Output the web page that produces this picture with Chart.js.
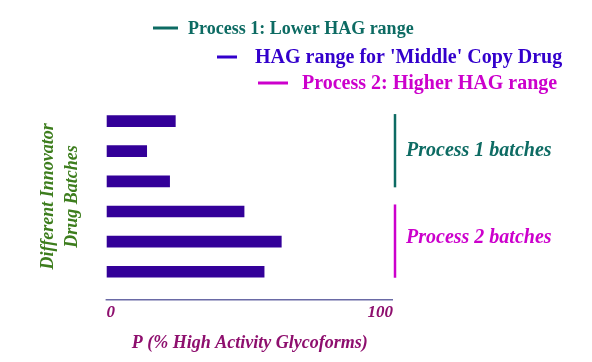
<!DOCTYPE html>
<html>
<head>
<meta charset="utf-8">
<script src="https://cdn.jsdelivr.net/npm/chart.js@4.4.0/dist/chart.umd.min.js"></script>
<style>
    html, body { margin: 0; padding: 0; background: #fff; }
</style>
</head>
<body>
<canvas id="hag-chart" width="592" height="362"></canvas>
<script>
// innovator drug batches, top to bottom, and their HAG level (% of scale)
var batchLabels = ['Batch 1', 'Batch 2', 'Batch 3', 'Batch 4', 'Batch 5', 'Batch 6'];
var hagValues = [24, 14, 22, 48, 61, 55];
var xTickValues = [0, 100];

// legend at the top
var legendLabels = ['Process 1: Lower HAG range', "HAG range for 'Middle' Copy Drug", 'Process 2: Higher HAG range'];
var legendColors = ['#0d6b63', '#3300cc', '#cc00cc'];

// brackets on the right side (batch index from / to)
var groupLabels = ['Process 1 batches', 'Process 2 batches'];
var groupFirst = [0, 3];
var groupLast = [2, 5];
var groupColors = ['#0d6b63', '#cc00cc'];

var serif = "'Liberation Serif', 'DejaVu Serif', serif";
var axisColor = '#8e0f6e';

// draws the header legend, the bottom axis line and the group brackets
var annotationsPlugin = {
    id: 'annotations',
    afterDraw: function (chart) {
        let ctx = chart.ctx;
        let area = chart.chartArea;
        let xs = chart.scales.x;
        let ys = chart.scales.y;

        ctx.save();

        // bottom axis line, a little below the last bar
        ctx.strokeStyle = '#6a6aa6';
        ctx.lineWidth = 1.5;
        ctx.beginPath();
        ctx.moveTo(xs.getPixelForValue(0) - 1, area.bottom + 13);
        ctx.lineTo(xs.getPixelForValue(100), area.bottom + 13);
        ctx.stroke();

        // brackets for the two process groups
        ctx.font = 'italic bold 20px ' + serif;
        ctx.textBaseline = 'middle';
        ctx.textAlign = 'left';
        for (let i = 0; i < groupLabels.length; i++) {
            let top = ys.getPixelForValue(groupFirst[i]) - 7;
            let bottom = ys.getPixelForValue(groupLast[i]) + 6;
            let bx = area.right + 2;
            ctx.strokeStyle = groupColors[i];
            ctx.lineWidth = 2.5;
            ctx.beginPath();
            ctx.moveTo(bx, top);
            ctx.lineTo(bx, bottom);
            ctx.stroke();
            ctx.fillStyle = groupColors[i];
            ctx.fillText(groupLabels[i], bx + 11, (top + bottom) / 2 + (i == 1 ? -3 : 0));
        }

        // legend rows are staggered to the right
        let lineX = [153, 217, 258];
        let lineW = [25, 20, 30];
        let textX = [188, 255, 302];
        let rowY = [28, 57, 83];
        let fontSize = [18, 20, 20];
        for (let i = 0; i < legendLabels.length; i++) {
            ctx.strokeStyle = legendColors[i];
            ctx.lineWidth = 3;
            ctx.beginPath();
            ctx.moveTo(lineX[i], rowY[i]);
            ctx.lineTo(lineX[i] + lineW[i], rowY[i]);
            ctx.stroke();
            ctx.font = 'bold ' + fontSize[i] + 'px ' + serif;
            ctx.fillStyle = legendColors[i];
            ctx.fillText(legendLabels[i], textX[i], rowY[i] + 1);
        }

        ctx.restore();
    }
};

let ctx = document.getElementById('hag-chart').getContext('2d');

let hagChart = new Chart(ctx, {
    type: 'bar',
    data: {
        labels: batchLabels,
        datasets: [{
            data: hagValues,
            backgroundColor: '#330099',
            barThickness: 11
        }]
    },
    options: {
        indexAxis: 'y',
        responsive: false,
        animation: false,
        layout: {
            padding: { top: 106, right: 199, bottom: 9, left: 36 }
        },
        scales: {
            x: {
                min: 0,
                max: 100,
                grid: { display: false, drawTicks: false },
                border: { display: false },
                afterBuildTicks: function (scale) {
                    scale.ticks = xTickValues.map(function (v) { return { value: v }; });
                },
                ticks: {
                    align: 'inner',
                    padding: 16,
                    color: axisColor,
                    font: { family: serif, size: 17, style: 'italic', weight: 'bold' }
                },
                title: {
                    display: true,
                    text: 'P (% High Activity Glycoforms)',
                    color: axisColor,
                    font: { family: serif, size: 18, style: 'italic', weight: 'bold', lineHeight: 1.1 },
                    padding: { top: -6, bottom: 0 }
                }
            },
            y: {
                grid: { display: false, drawTicks: false },
                border: { display: false },
                ticks: { display: false },
                title: {
                    display: true,
                    text: ['Different Innovator', 'Drug Batches'],
                    color: '#3d7d1d',
                    font: { family: serif, size: 18, style: 'italic', weight: 'bold', lineHeight: 1.35 },
                    padding: { top: 0, bottom: 22 }
                }
            }
        },
        plugins: {
            legend: { display: false },
            tooltip: { enabled: false }
        }
    },
    plugins: [annotationsPlugin]
});
</script>
</body>
</html>
